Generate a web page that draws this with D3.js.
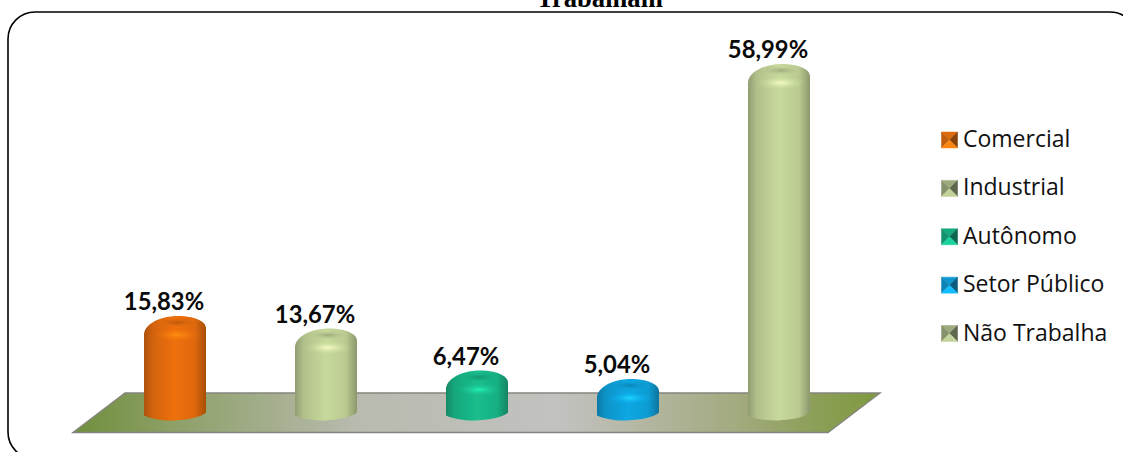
<!DOCTYPE html>
<html><head><meta charset="utf-8">
<script src="https://cdn.jsdelivr.net/npm/d3@7/dist/d3.min.js"></script>
<style>html,body{margin:0;padding:0;background:#fff;overflow:hidden}svg{display:block}</style>
</head><body><svg id="c" width="1123" height="452"></svg>
<script>
const categories=["Comercial","Industrial","Autônomo","Setor Público","Não Trabalha"];
const values=[15.83,13.67,6.47,5.04,58.99];
const valueLabels=["15,83%","13,67%","6,47%","5,04%","58,99%"];
const colors=["#ee7009","#c8d99c","#1abd8d","#10a7e3","#c8d99c"];
const legendColors=["#e5700f","#a3b082","#17b085","#0f9ed8","#a3b082"];
const titleText="Trabalham";

const svg=d3.select("#c");
const defs=svg.append("defs");
const x=d3.scaleBand().domain(categories).range([99.5,854.5]).paddingInner(1-62/151).paddingOuter((1-62/151)/2);
const y=d3.scaleLinear().domain([0,60]).range([408.4,58]);
const col=d3.scaleOrdinal().domain(categories).range(colors);
const lcol=d3.scaleOrdinal().domain(categories).range(legendColors);

// frame
svg.append("rect").attr("x",8).attr("y",12).attr("width",1129).attr("height",447).attr("rx",27)
  .attr("fill","#fff").attr("stroke","#000").attr("stroke-width",1.6);
// title (clipped by the top of the page, as in the reference)
svg.append("text").attr("x",599.5).attr("y",6.5).attr("text-anchor","middle")
  .attr("font-family","'Liberation Serif'").attr("font-weight","700").attr("font-size",26.6).text(titleText);

// floor
const fg=defs.append("linearGradient").attr("id","floor").attr("x1","0").attr("x2","1").attr("y1","0").attr("y2","0");
[[0,"#6f8f3c"],[.12,"#8c9f66"],[.35,"#b8bbae"],[.6,"#c2c2c0"],[.82,"#a3ab80"],[.92,"#8c9f58"],[1,"#7f9a3e"]]
  .forEach(s=>fg.append("stop").attr("offset",s[0]).attr("stop-color",s[1]));
svg.append("path").attr("d","M73,432.5L828,432.5L880,393L125,393Z").attr("fill","url(#floor)")
  .attr("stroke","#85857f").attr("stroke-width",1.4);

// bars
const blur=defs.append("filter").attr("id","soft").attr("x","-10%").attr("y","-10%").attr("width","120%").attr("height","120%");
blur.append("feGaussianBlur").attr("stdDeviation",0.5);
categories.forEach((c,i)=>{
  const base=d3.color(col(c));
  const g=defs.append("linearGradient").attr("id","body"+i);
  [[0,base.darker(.9)],[.14,base.darker(.35)],[.5,base],[.82,base.darker(.2)],[1,base.darker(1)]]
   .forEach(s=>g.append("stop").attr("offset",s[0]).attr("stop-color",s[1]));
  const r=defs.append("radialGradient").attr("id","cap"+i).attr("cx",.5).attr("cy",.5).attr("r",.5);
  [[0,base.brighter(.8),.85],[.6,base.brighter(.3),.3],[1,base,0]]
   .forEach(s=>r.append("stop").attr("offset",s[0]).attr("stop-color",s[1]).attr("stop-opacity",s[2]));
  const d=defs.append("radialGradient").attr("id","dim"+i).attr("cx",.5).attr("cy",.5).attr("r",.5);
  [[0,base.darker(.8),.85],[1,base.darker(.3),0]]
   .forEach(s=>d.append("stop").attr("offset",s[0]).attr("stop-color",s[1]).attr("stop-opacity",s[2]));
});
const gBars=svg.append("g").attr("filter","url(#soft)");
categories.forEach((c,i)=>{
  const L=x(c),w=x.bandwidth(),R=L+w,top=y(values[i]),bot=y(0);
  const g=gBars.append("g");
  const peak=L+w*.55;
  g.append("path")
   .attr("d",`M${L},${bot+7}
     C${L+10},${bot+11.5} ${L+w*.4},${bot+13} ${L+w*.55},${bot+11.5}
     C${L+w*.75},${bot+11} ${R-4},${bot+8} ${R},${bot+4}
     L${R},${top+12}
     C${R},${top+5} ${R-w*.2},${top} ${peak},${top}
     C${L+w*.25},${top} ${L},${top+8.5} ${L},${top+19}Z`)
   .attr("fill",`url(#body${i})`);
  g.append("ellipse").attr("cx",L+w*.53).attr("cy",top+6.5).attr("rx",w*.3).attr("ry",4.5).attr("fill",`url(#dim${i})`);
  g.append("ellipse").attr("cx",L+w*.53).attr("cy",top+19).attr("rx",w*.4).attr("ry",7).attr("fill",`url(#cap${i})`);
});

// value labels
svg.append("g").selectAll("text").data(categories).join("text")
  .attr("x",c=>x(c)+x.bandwidth()/2-11).attr("y",(c,i)=>y(values[i])-6)
  .attr("text-anchor","middle").attr("font-family","Lato").attr("font-weight","700").attr("font-size",23.8).attr("fill","#0a0a0a")
  .text((c,i)=>valueLabels[i]);

// legend
const ly=d3.scalePoint().domain(categories).range([140,333.5]);
const lg=svg.append("g").selectAll("g").data(categories).join("g").attr("transform",c=>`translate(941.5,${ly(c)-8})`);
const fc=[["M0,0L16,0L8,8Z",-0.1],["M0,0L8,8L0,16Z",-0.5],["M16,0L8,8L16,16Z",-1.5],["M0,16L8,8L16,16Z",0.5]];
fc.forEach(f=>lg.append("path").attr("d",f[0]).attr("stroke-width",.5).each(function(){
  const sh=c=>{const b=d3.color(lcol(c));return f[1]>0?b.brighter(f[1]):b.darker(-f[1]);};
  d3.select(this).attr("fill",sh).attr("stroke",sh);}));
lg.append("text").attr("x",21.5).attr("y",15).attr("font-family","'Open Sans'").attr("font-size",23).attr("fill","#111").text(c=>c);
</script></body></html>
